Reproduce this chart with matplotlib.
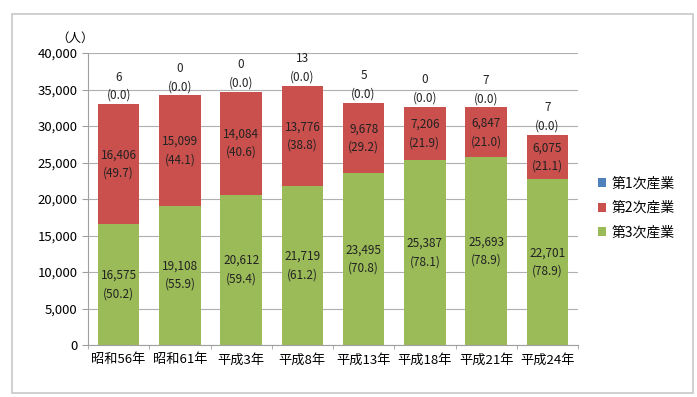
import matplotlib
matplotlib.use("Agg")
import matplotlib.pyplot as plt
from matplotlib.patches import Rectangle
import numpy as np

plt.rcParams['font.family'] = ['Noto Sans CJK JP', 'DejaVu Sans']

categories = ["昭和56年", "昭和61年", "平成3年", "平成8年", "平成13年", "平成18年", "平成21年", "平成24年"]
primary = [6, 0, 0, 13, 5, 0, 7, 7]
primary_pct = ["(0.0)", "(0.0)", "(0.0)", "(0.0)", "(0.0)", "(0.0)", "(0.0)", "(0.0)"]
secondary = [16406, 15099, 14084, 13776, 9678, 7206, 6847, 6075]
secondary_pct = ["(49.7)", "(44.1)", "(40.6)", "(38.8)", "(29.2)", "(21.9)", "(21.0)", "(21.1)"]
tertiary = [16575, 19108, 20612, 21719, 23495, 25387, 25693, 22701]
tertiary_pct = ["(50.2)", "(55.9)", "(59.4)", "(61.2)", "(70.8)", "(78.1)", "(78.9)", "(78.9)"]
series_names = ["第1次産業", "第2次産業", "第3次産業"]
colors = ["#4F81BD", "#C9504D", "#9BBB59"]

fig = plt.figure(figsize=(6.97, 3.97), dpi=100)
fig.patches.append(Rectangle((12/697, 1-393/397), (693-12)/697, (393-14)/397,
                             transform=fig.transFigure, fill=False,
                             edgecolor="#C8C8C8", linewidth=1.2))
ax = fig.add_axes([88/697, 1-345/397, (578-88)/697, (345-53)/397])

x = np.arange(len(categories))
w = 0.68
t = np.array(tertiary)
s = np.array(secondary)
p = np.array(primary)
ax.bar(x, t, w, color=colors[2], label=series_names[2], zorder=2)
ax.bar(x, s, w, bottom=t, color=colors[1], label=series_names[1], zorder=2)
ax.bar(x, p, w, bottom=t + s, color=colors[0], label=series_names[0], zorder=2)

fs = 8.5
ls = 1.55
for i in range(len(categories)):
    ax.text(x[i], t[i] / 2, f"{tertiary[i]:,}\n{tertiary_pct[i]}", ha="center", va="center",
            fontsize=fs, color="#222222", linespacing=ls, zorder=3)
    ax.text(x[i], t[i] + s[i] / 2, f"{secondary[i]:,}\n{secondary_pct[i]}", ha="center", va="center",
            fontsize=fs, color="#222222", linespacing=ls, zorder=3)
    ax.text(x[i], t[i] + s[i] + p[i] + 300, f"{primary[i]:,}\n{primary_pct[i]}", ha="center", va="bottom",
            fontsize=fs, color="#222222", linespacing=ls, zorder=3)

ax.set_xlim(-0.5, len(categories) - 0.5)
ax.set_ylim(0, 40000)
ax.set_yticks(np.arange(0, 40001, 5000))
ax.yaxis.set_major_formatter(matplotlib.ticker.FuncFormatter(lambda v, _: f"{int(v):,}"))
ax.set_xticks(x)
ax.set_xticklabels(categories, fontsize=9.5)
ax.set_xticks(np.arange(-0.5, len(categories), 1.0), minor=True)
ax.tick_params(axis="y", labelsize=9.5, length=4, color="#A0A0A0")
ax.tick_params(axis="x", which="major", length=0, pad=6)
ax.tick_params(axis="x", which="minor", length=3, color="#A0A0A0")
ax.grid(axis="y", color="#B0B0B0", linewidth=0.8, zorder=0)
for sp in ["top", "right"]:
    ax.spines[sp].set_visible(False)
ax.spines["left"].set_color("#A0A0A0")
ax.spines["bottom"].set_color("#A0A0A0")

fig.text(75/697, 1-38/397, "（人）", ha="center", va="center", fontsize=9)

handles, labels = ax.get_legend_handles_labels()
leg = fig.legend(handles[::-1], labels[::-1], loc="center left",
                 bbox_to_anchor=(585/697, 1-208/397), frameon=False, fontsize=10,
                 handlelength=0.6, handleheight=0.6, handletextpad=0.4, labelspacing=0.75)

fig.savefig("out.png", dpi=100)
